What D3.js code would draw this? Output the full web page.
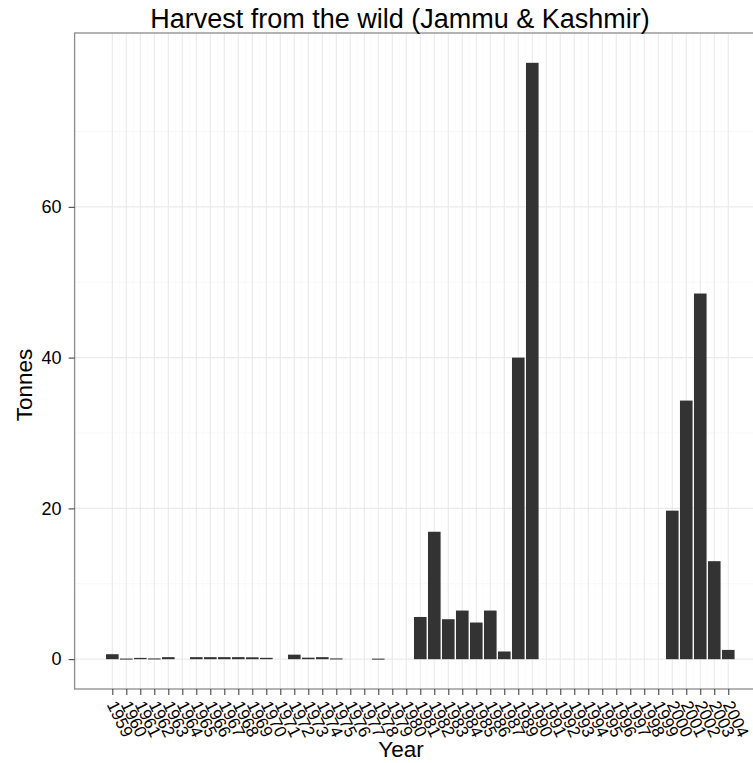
<!DOCTYPE html>
<html>
<head>
<meta charset="utf-8">
<script src="https://cdn.jsdelivr.net/npm/d3@7"></script>
<style>
  body { margin: 0; background: #fff; }
  text { font-family: "Liberation Sans", Arial, sans-serif; fill: #000; }
</style>
</head>
<body>
<svg id="chart" width="753" height="763"></svg>
<script>
// Years shown on the axis (one label per bar slot)
const years = [
    "1959", "1960", "1961", "1962", "1963", "1964", "1965", "1966", "1967", "1968",
    "1969", "1970", "1971", "1972", "1973", "1974", "1975", "1976", "1977", "1978",
    "1979", "1980", "1981", "1982", "1983", "1984", "1985", "1986", "1987", "1989",
    "1990", "1991", "1992", "1993", "1994", "1995", "1996", "1997", "1998", "1999",
    "2000", "2001", "2002", "2003", "2004"
];

// Tonnes harvested for each year
const tonnes = [
    0.66, 0.08, 0.17, 0.1, 0.27, 0, 0.27, 0.27, 0.27, 0.27,
    0.25, 0.18, 0, 0.6, 0.2, 0.27, 0.1, 0, 0, 0.07,
    0, 0, 5.6, 16.9, 5.3, 6.45, 4.86, 6.45, 1.02, 40,
    79.1, 0, 0, 0, 0, 0, 0, 0, 0, 0,
    19.7, 34.3, 48.5, 13.0, 1.23
];

const yTicks = [0, 20, 40, 60];
const yMinor = [10, 30, 50, 70];

let svg = d3.select("#chart");

// Panel box (right edge runs past the picture, as in the original)
let panel = { left: 74.6, right: 766, top: 33, bottom: 689 };

let data = years.map(function(y, i) {
    return { year: y, i: i, value: tonnes[i] };
});

// x is continuous on the slot index, bars 0.9 wide, 5% expansion
let n = years.length;
let xlo = -0.45, xhi = n - 1 + 0.45;
let xpad = (xhi - xlo) * 0.05;
let x = d3.scaleLinear()
    .domain([xlo - xpad, xhi + xpad])
    .range([panel.left, panel.right]);

let ymax = d3.max(tonnes);
let ypad = ymax * 0.05;
let y = d3.scaleLinear()
    .domain([-ypad, ymax + ypad])
    .range([panel.bottom, panel.top]);

// Background grid
let grid = svg.append("g");

grid.selectAll(".yminor")
    .data(yMinor)
    .enter()
    .append("line")
    .attr("x1", panel.left).attr("x2", panel.right)
    .attr("y1", d => y(d)).attr("y2", d => y(d))
    .attr("stroke", "#f7f7f7")
    .attr("stroke-width", 1);

grid.selectAll(".xminor")
    .data(d3.range(n - 1))
    .enter()
    .append("line")
    .attr("x1", d => x(d + 0.5)).attr("x2", d => x(d + 0.5))
    .attr("y1", panel.top).attr("y2", panel.bottom)
    .attr("stroke", "#fbfbfb")
    .attr("stroke-width", 1);

grid.selectAll(".ymajor")
    .data(yTicks)
    .enter()
    .append("line")
    .attr("x1", panel.left).attr("x2", panel.right)
    .attr("y1", d => y(d)).attr("y2", d => y(d))
    .attr("stroke", "#ebebeb")
    .attr("stroke-width", 1.2);

grid.selectAll(".xmajor")
    .data(d3.range(n))
    .enter()
    .append("line")
    .attr("x1", d => x(d)).attr("x2", d => x(d))
    .attr("y1", panel.top).attr("y2", panel.bottom)
    .attr("stroke", "#ebebeb")
    .attr("stroke-width", 1.2);

// Bars
svg.append("g")
    .selectAll("rect")
    .data(data.filter(d => d.value > 0))
    .enter()
    .append("rect")
    .attr("x", d => x(d.i - 0.45))
    .attr("width", d => x(0.45) - x(-0.45))
    .attr("y", d => y(d.value))
    .attr("height", d => Math.max(1, y(0) - y(d.value)))
    .attr("fill", "#333333");

// Panel border
svg.append("rect")
    .attr("x", panel.left)
    .attr("y", panel.top)
    .attr("width", panel.right - panel.left)
    .attr("height", panel.bottom - panel.top)
    .attr("fill", "none")
    .attr("stroke", "#8c8c8c")
    .attr("stroke-width", 1.3);

// y axis
let yAxis = svg.append("g")
    .attr("transform", "translate(" + panel.left + ",0)")
    .call(d3.axisLeft(y).tickValues(yTicks).tickSize(6).tickPadding(7));
yAxis.select(".domain").remove();
yAxis.selectAll(".tick line").attr("stroke", "#333");
yAxis.selectAll(".tick text")
    .attr("font-size", "18px")
    .attr("font-family", "Liberation Sans, Arial, sans-serif")
    .attr("fill", "#000");

// x axis: ticks then rotated labels
let xAxis = svg.append("g")
    .attr("transform", "translate(0," + panel.bottom + ")")
    .call(d3.axisBottom(x)
        .tickValues(d3.range(n))
        .tickFormat(i => years[i])
        .tickSize(6));
xAxis.select(".domain").remove();
xAxis.selectAll(".tick line").attr("stroke", "#333");
xAxis.selectAll(".tick text")
    .attr("font-size", "17px")
    .attr("font-family", "Liberation Sans, Arial, sans-serif")
    .attr("fill", "#000")
    .attr("text-anchor", "start")
    .attr("y", 0)
    .attr("dy", "0.35em")
    .attr("transform", "translate(-1,13) rotate(64)");

// Titles
svg.append("text")
    .attr("x", 400)
    .attr("y", 28)
    .attr("text-anchor", "middle")
    .attr("font-size", "27px")
    .text("Harvest from the wild (Jammu & Kashmir)");

svg.append("text")
    .attr("x", 401)
    .attr("y", 757)
    .attr("text-anchor", "middle")
    .attr("font-size", "22.5px")
    .text("Year");

svg.append("text")
    .attr("transform", "translate(32,385) rotate(-90)")
    .attr("text-anchor", "middle")
    .attr("font-size", "22.5px")
    .text("Tonnes");
</script>
</body>
</html>
